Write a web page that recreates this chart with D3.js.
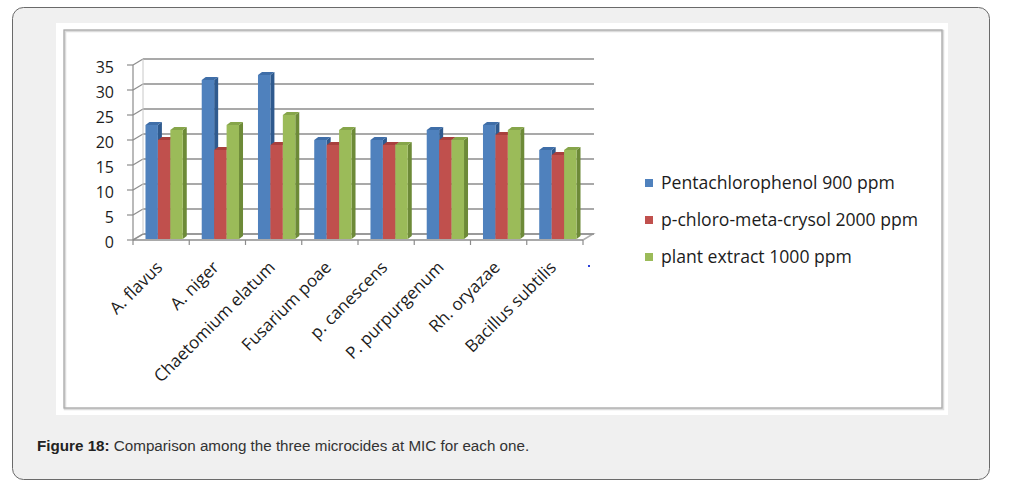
<!DOCTYPE html>
<html>
<head>
<meta charset="utf-8">
<script src="https://cdn.jsdelivr.net/npm/d3@7"></script>
<style>
  body { margin: 0; background: #fff; }
  svg { display: block; }
</style>
</head>
<body>
<div id="chart"></div>
<script>
// data
var categories = ["A. flavus", "A. niger", "Chaetomium elatum", "Fusarium poae",
  "p. canescens", "P. purpurgenum", "Rh. oryazae", "Bacillus subtilis"];
var seriesNames = ["Pentachlorophenol 900 ppm", "p-chloro-meta-crysol 2000 ppm", "plant extract 1000 ppm"];
var penta = [23, 32, 33, 20, 20, 22, 23, 18];
var pcmc = [20, 18, 19, 19, 19, 20, 21, 17];
var plant = [22, 23, 25, 22, 19, 20, 22, 18];
var yTicks = [0, 5, 10, 15, 20, 25, 30, 35];

var colors = {
  front: ["#4f81bd", "#c0504d", "#9bbb59"],
  side: ["#2f5a8e", "#8e3431", "#6d8a38"],
  top: ["#3f6ea8", "#a8403d", "#86a54a"]
};

var chartFont = "'Open Sans', sans-serif";

var svgwidth = 1013, svgheight = 490;
var svg = d3.select("#chart").append("svg")
  .attr("width", svgwidth)
  .attr("height", svgheight);

// outer figure panel
svg.append("rect")
  .attr("x", 12.5).attr("y", 7.5)
  .attr("width", 977).attr("height", 472)
  .attr("rx", 11)
  .attr("fill", "#f0f0f0")
  .attr("stroke", "#6a6a6a");

// white picture area + its border
svg.append("rect")
  .attr("x", 56).attr("y", 23)
  .attr("width", 892).attr("height", 392)
  .attr("fill", "#fff");
svg.append("rect")
  .attr("x", 65).attr("y", 31)
  .attr("width", 878).attr("height", 378)
  .attr("fill", "none")
  .attr("stroke", "#dcdcdc")
  .attr("stroke-width", 2.5);
svg.append("rect")
  .attr("x", 64).attr("y", 30)
  .attr("width", 878).attr("height", 378)
  .attr("fill", "none")
  .attr("stroke", "#ababab")
  .attr("stroke-width", 1.3);

// plot geometry (front plane) and the 3d depth offset
var x0 = 133, x1 = 583, yBase = 240;
var depth = {dx: 10, dy: 6};
var bar3d = {dx: 4, dy: 3};

var yscale = d3.scaleLinear().domain([0, 35]).range([yBase, 65]);

var xscale = d3.scaleBand()
  .domain(categories)
  .range([x0 + 3, x1 + 3])
  .paddingInner(0.337)
  .paddingOuter(0.1685);

var xsub = d3.scaleBand()
  .domain(d3.range(seriesNames.length))
  .range([0, xscale.bandwidth()]);

var tickX = d3.scaleLinear().domain([0, categories.length]).range([x0, x1]);

var g = svg.append("g");
var gridColor = "#8c8c8c";

// floor
g.append("path")
  .attr("d", `M${x0},${yBase} L${x0 + depth.dx},${yBase - depth.dy} L${x1 + depth.dx},${yBase - depth.dy} L${x1},${yBase}`)
  .attr("fill", "none")
  .attr("stroke", "#b0b0b0")
  .attr("stroke-width", 1.5);

// back wall gridlines + side wall diagonals
yTicks.forEach(function(t) {
  var yy = yscale(t);
  g.append("line")
    .attr("x1", x0 + depth.dx).attr("x2", x1 + depth.dx + 1)
    .attr("y1", yy - depth.dy).attr("y2", yy - depth.dy)
    .attr("stroke", gridColor).attr("stroke-width", 1.6);
  g.append("line")
    .attr("x1", x0).attr("x2", x0 + depth.dx)
    .attr("y1", yy).attr("y2", yy - depth.dy)
    .attr("stroke", gridColor).attr("stroke-width", 1.2);
  g.append("line")
    .attr("x1", x0 - 6).attr("x2", x0)
    .attr("y1", yy).attr("y2", yy)
    .attr("stroke", gridColor).attr("stroke-width", 1.2);
  g.append("text")
    .attr("x", x0 - 19).attr("y", yy + 2)
    .attr("dy", "0.35em")
    .attr("text-anchor", "end")
    .attr("font-family", chartFont)
    .attr("font-size", "16px")
    .attr("fill", "#1c1c1c")
    .text(t);
});

// left wall edges
g.append("line")
  .attr("x1", x0).attr("x2", x0)
  .attr("y1", yBase).attr("y2", yscale(35))
  .attr("stroke", gridColor).attr("stroke-width", 1.2);
g.append("line")
  .attr("x1", x0 + depth.dx).attr("x2", x0 + depth.dx)
  .attr("y1", yBase - depth.dy).attr("y2", yscale(35) - depth.dy)
  .attr("stroke", "#c8c8c8").attr("stroke-width", 1);

// front axis + category ticks
g.append("line")
  .attr("x1", x0).attr("x2", x1)
  .attr("y1", yBase).attr("y2", yBase)
  .attr("stroke", gridColor).attr("stroke-width", 1.5);
d3.range(categories.length + 1).forEach(function(i) {
  g.append("line")
    .attr("x1", tickX(i)).attr("x2", tickX(i))
    .attr("y1", yBase).attr("y2", yBase + 5)
    .attr("stroke", gridColor).attr("stroke-width", 1.2);
});

// bars
var allSeries = [penta, pcmc, plant];
var bars = g.append("g");
categories.forEach(function(c, ci) {
  allSeries.forEach(function(vals, si) {
    var bx = xscale(c) + xsub(si);
    var bw = xsub.bandwidth();
    var by = yscale(vals[ci]);
    var yb = yBase - 1;
    bars.append("path")
      .attr("d", `M${bx + bw},${by} L${bx + bw + bar3d.dx},${by - bar3d.dy} L${bx + bw + bar3d.dx},${yb - bar3d.dy} L${bx + bw},${yb}Z`)
      .attr("fill", colors.side[si]);
    bars.append("path")
      .attr("d", `M${bx},${by} L${bx + bar3d.dx},${by - bar3d.dy} L${bx + bw + bar3d.dx},${by - bar3d.dy} L${bx + bw},${by}Z`)
      .attr("fill", colors.top[si]);
    bars.append("rect")
      .attr("x", bx).attr("y", by)
      .attr("width", bw).attr("height", yb - by)
      .attr("fill", colors.front[si]);
  });
});

// rotated category labels
categories.forEach(function(c, ci) {
  var cx = xscale(c) + xscale.bandwidth() / 2;
  g.append("text")
    .attr("transform", `translate(${cx - 9}, ${yBase + 20}) rotate(-45)`)
    .attr("dy", "0.7em")
    .attr("text-anchor", "end")
    .attr("font-family", chartFont)
    .attr("font-size", "17px")
    .attr("fill", "#1c1c1c")
    .text(c);
});

// stray dot from the original image
g.append("rect")
  .attr("x", 588).attr("y", 265)
  .attr("width", 2).attr("height", 2)
  .attr("fill", "#2b3fd9");

// legend
var legend = svg.append("g");
seriesNames.forEach(function(name, i) {
  var ly = 183 + i * 37;
  legend.append("rect")
    .attr("x", 645).attr("y", ly - 4)
    .attr("width", 8).attr("height", 8)
    .attr("fill", colors.front[i]);
  legend.append("text")
    .attr("x", 661).attr("y", ly)
    .attr("dy", "0.35em")
    .attr("font-family", chartFont)
    .attr("font-size", "17.6px")
    .attr("fill", "#1c1c1c")
    .text(name);
});

// caption
var caption = svg.append("text")
  .attr("x", 37).attr("y", 451)
  .attr("font-family", "'Liberation Sans', Arial, sans-serif")
  .attr("font-size", "15.2px")
  .attr("fill", "#333");
caption.append("tspan").attr("font-weight", "bold").attr("fill", "#222").text("Figure 18:");
caption.append("tspan").text(" Comparison among the three microcides at MIC for each one.");
</script>
</body>
</html>
